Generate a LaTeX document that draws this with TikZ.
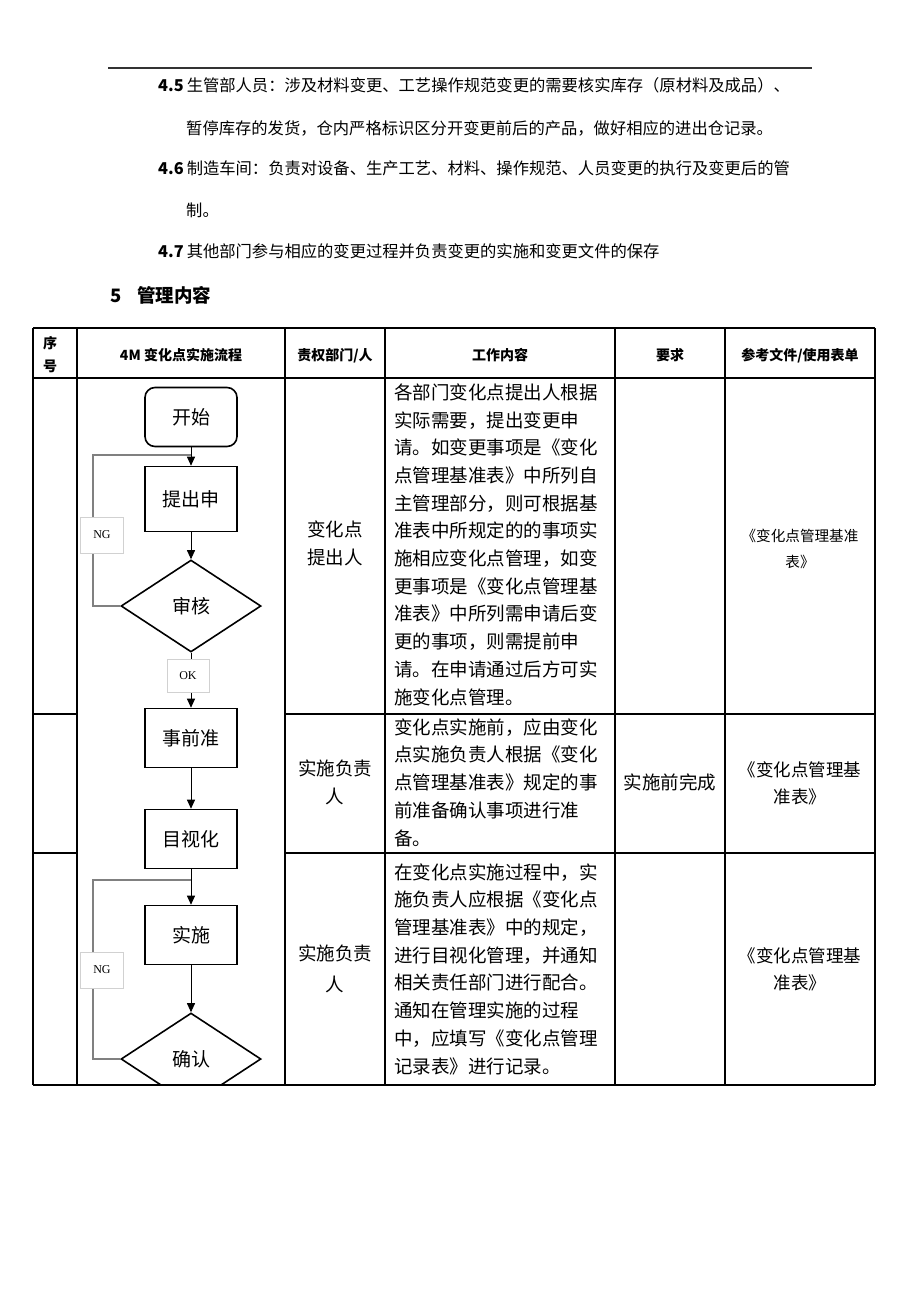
\documentclass[tikz,border=0pt]{standalone}
\usepackage{fontspec}
\setmainfont{Noto Sans CJK SC}
\newfontfamily\tagfont{Liberation Serif}
\usetikzlibrary{shapes.geometric,arrows.meta}

\tikzset{
  flowbox/.style={draw,line width=1.6pt,minimum width=92pt,minimum height=59pt,inner sep=0pt,font=\fontsize{19}{22}\selectfont},
  startbox/.style={flowbox,rounded corners=10pt},
  decision/.style={draw,line width=1.6pt,shape=diamond,aspect=1.52,minimum width=140pt,minimum height=92pt,inner sep=0pt,font=\fontsize{19}{22}\selectfont},
  flowarrow/.style={line width=0.9pt,-{Triangle[length=9pt,width=8pt]}},
  loopline/.style={draw=black!50,line width=1.1pt},
  tag/.style={draw=black!18,line width=0.6pt,fill=white,minimum width=43pt,minimum height=36pt,inner sep=0pt,font=\tagfont\fontsize{12}{14}\selectfont},
  grid/.style={line width=1.3pt},
  para/.style={anchor=base west,inner sep=0pt,font=\fontsize{16.3}{20}\selectfont},
  cell/.style={inner sep=0pt,font=\fontsize{18.5}{27.7}\selectfont},
  head/.style={inner sep=0pt,font=\fontsize{14}{23}\selectfont\bfseries}
}

\begin{document}
\begin{tikzpicture}[x=1pt,y=-1pt]
  \useasboundingbox[fill=white] (0,0) rectangle (920,1302);

  \draw[line width=1.5pt,black!80] (108,68) -- (812,68);
  \node[para] (p45) at (158,91) {{\bfseries 4.5}\hspace{3pt}生管部人员：涉及材料变更、工艺操作规范变更的需要核实库存（原材料及成品）、};
  \node[para] (p45b) at (186,134) {暂停库存的发货，仓内严格标识区分开变更前后的产品，做好相应的进出仓记录。};
  \node[para] (p46) at (158,174) {{\bfseries 4.6}\hspace{3pt}制造车间：负责对设备、生产工艺、材料、操作规范、人员变更的执行及变更后的管};
  \node[para] (p46b) at (186,216) {制。};
  \node[para] (p47) at (158,257) {{\bfseries 4.7}\hspace{3pt}其他部门参与相应的变更过程并负责变更的实施和变更文件的保存};
  \node[para,font=\fontsize{18.5}{22}\selectfont\bfseries] (sec5) at (110,302) {5\hspace{16pt}管理内容};

  \foreach \x in {33,77,285,385,615,725,875}{
    \draw[grid] (\x,328) -- (\x,1085);
  }
  \foreach \y in {328,378,1085}{
    \draw[grid] (33,\y) -- (875,\y);
  }
  \foreach \y in {714,853}{
    \draw[grid] (33,\y) -- (77,\y);
    \draw[grid] (285,\y) -- (875,\y);
  }

  \node[head,align=center,anchor=base] (hno) at (50,371) {序\\号};
  \node[head,anchor=base] (hflow) at (181,360) {4M 变化点实施流程};
  \node[head,anchor=base] (hdept) at (335,360) {责权部门/人};
  \node[head,anchor=base] (hwork) at (500,360) {工作内容};
  \node[head,anchor=base] (hreq) at (670,360) {要求};
  \node[head,anchor=base] (hdoc) at (800,360) {参考文件/使用表单};

  \node[cell,align=center,anchor=base] (dept1) at (335,564) {变化点\\提出人};
  \node[cell,align=left,anchor=base west] (work1) at (394,704) {各部门变化点提出人根据\\实际需要，提出变更申\\请。如变更事项是《变化\\点管理基准表》中所列自\\主管理部分，则可根据基\\准表中所规定的的事项实\\施相应变化点管理，如变\\更事项是《变化点管理基\\准表》中所列需申请后变\\更的事项，则需提前申\\请。在申请通过后方可实\\施变化点管理。};
  \node[cell,align=center,anchor=base,font=\fontsize{14.6}{26}\selectfont] (doc1) at (800,567) {《变化点管理基准\\表》};

  \node[cell,align=center,anchor=base] (dept2) at (335,803) {实施负责\\人};
  \node[cell,align=left,anchor=base west] (work2) at (394,845) {变化点实施前，应由变化\\点实施负责人根据《变化\\点管理基准表》规定的事\\前准备确认事项进行准\\备。};
  \node[cell,anchor=base] (req2) at (670,789) {实施前完成};
  \node[cell,align=center,anchor=base,font=\fontsize{17.5}{27}\selectfont] (doc2) at (800,803) {《变化点管理基\\准表》};

  \node[cell,align=center,anchor=base,font=\fontsize{18.5}{31}\selectfont] (dept3) at (335,991) {实施负责\\人};
  \node[cell,align=left,anchor=base west] (work3) at (394,1073) {在变化点实施过程中，实\\施负责人应根据《变化点\\管理基准表》中的规定，\\进行目视化管理，并通知\\相关责任部门进行配合。\\通知在管理实施的过程\\中，应填写《变化点管理\\记录表》进行记录。};
  \node[cell,align=center,anchor=base,font=\fontsize{17.5}{27}\selectfont] (doc3) at (800,989) {《变化点管理基\\准表》};

  \node[startbox] (start) at (191,417) {开始};
  \node[flowbox,minimum height=65pt] (apply) at (191,499) {提出申};
  \node[decision] (review) at (191,606) {审核};
  \node[flowbox] (prep) at (191,738) {事前准};
  \node[flowbox] (visual) at (191,839) {目视化};
  \node[flowbox] (exec) at (191,935) {实施};
  \begin{scope}
    \clip (33,328) rectangle (875,1085);
    \node[decision] (confirm) at (191,1059) {确认};
  \end{scope}

  \coordinate (j1) at (191,455);
  \coordinate (ng1) at (93,455);
  \coordinate (j2) at (191,880);
  \coordinate (ng2) at (93,880);

  \draw[loopline] (review.west) -| (ng1) -- (j1);
  \draw[loopline] (confirm.west) -| (ng2) -- (j2);

  \draw[flowarrow] (start) -- (apply);
  \draw[flowarrow] (apply) -- (review);
  \draw[flowarrow] (review) -- (prep);
  \draw[flowarrow] (prep) -- (visual);
  \draw[flowarrow] (visual) -- (exec);
  \draw[flowarrow] (exec) -- (confirm.north);

  \node[tag] (ngtag1) at (102,535) {NG};
  \node[tag] (ngtag2) at (102,970) {NG};
  \node[tag,minimum width=42pt,minimum height=33pt] (oktag) at (188,676) {OK};
\end{tikzpicture}
\end{document}
